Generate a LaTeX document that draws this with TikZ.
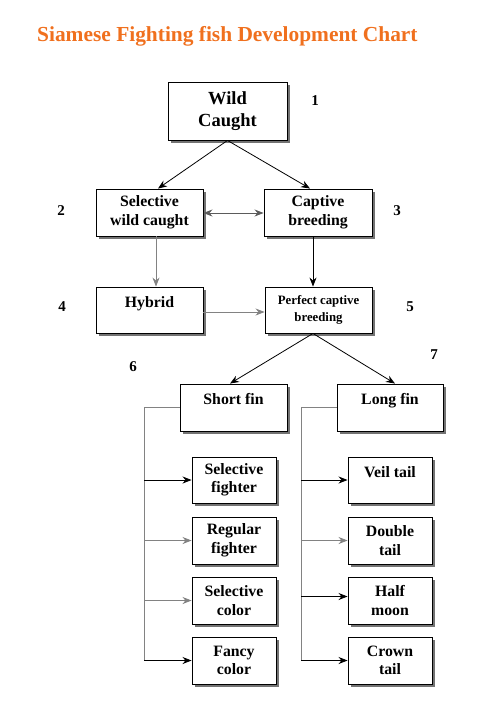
\documentclass[tikz,border=0pt]{standalone}
\usepackage{fontspec}
\setmainfont{Liberation Serif}
\usetikzlibrary{arrows.meta,shadows,calc}
\definecolor{titleorange}{RGB}{240,112,30}
\definecolor{linegray}{RGB}{130,130,130}
\tikzset{
  box/.style={draw=black, fill=white, line width=0.9pt, align=center, inner sep=0pt,
    font=\fontsize{15.8}{18.5}\selectfont\bfseries,
    drop shadow={shadow xshift=3pt, shadow yshift=-3pt, fill=black!55, opacity=1}},
  num/.style={font=\fontsize{15}{18}\selectfont\bfseries, inner sep=0pt},
  arr/.style={-{Stealth[length=9pt,width=7pt]}, line width=0.8pt},
  darr/.style={{Stealth[length=9pt,width=7pt]}-{Stealth[length=9pt,width=7pt]}, line width=0.8pt},
  ln/.style={line width=0.8pt}
}
\begin{document}
\begin{tikzpicture}[x=1pt,y=-1pt]
\useasboundingbox (0,0) rectangle (480,721);
\node[anchor=base west, inner sep=0pt, text=titleorange, font=\fontsize{21.4}{24}\selectfont\bfseries] (title) at (37,41) {Siamese Fighting fish Development Chart};

\node[box, minimum width=119pt, minimum height=58pt, font=\fontsize{18.5}{22}\selectfont\bfseries] (wild) at (227.5,111) {Wild\\Caught};
\node[box, minimum width=107pt, minimum height=47pt] (selwild) at (149.5,212.5) {Selective\\wild caught};
\node[box, minimum width=108pt, minimum height=47pt] (captive) at (318,212.5) {Captive\\breeding};
\node[box, minimum width=107pt, minimum height=46pt] (hybrid) at (149.5,310) {Hybrid\\[-9pt]\strut};
\node[box, minimum width=107pt, minimum height=46pt, font=\fontsize{12.8}{17}\selectfont\bfseries] (perfect) at (318.5,310) {Perfect captive\\breeding};
\node[box, minimum width=107pt, minimum height=47pt] (short) at (233.5,407.5) {Short fin\\[-6pt]\strut};
\node[box, minimum width=106pt, minimum height=47pt] (long) at (390,407.5) {Long fin\\[-6pt]\strut};

\node[box, minimum width=84pt, minimum height=46pt] (selfight) at (234,480) {Selective\\fighter};
\node[box, minimum width=84pt, minimum height=47pt] (regular) at (234,540.5) {Regular\\fighter};
\node[box, minimum width=84pt, minimum height=47pt] (selcolor) at (234,600.5) {Selective\\color};
\node[box, minimum width=84pt, minimum height=47pt] (fancy) at (234,660.5) {Fancy\\color};

\node[box, minimum width=84pt, minimum height=46pt] (veil) at (390,480) {Veil tail\\[-8pt]\strut};
\node[box, minimum width=84pt, minimum height=47pt] (double) at (390,540.5) {Double\\tail};
\node[box, minimum width=84pt, minimum height=47pt] (half) at (390,600.5) {Half\\moon};
\node[box, minimum width=84pt, minimum height=47pt] (crown) at (390,660.5) {Crown\\tail};

\node[num] (n1) at (315,101) {1};
\node[num] (n2) at (61,211) {2};
\node[num] (n3) at (397,211) {3};
\node[num] (n4) at (62,307) {4};
\node[num] (n5) at (410,307) {5};
\node[num] (n6) at (133,367) {6};
\node[num] (n7) at (434,355) {7};

\draw[arr] (wild.south) -- ([xshift=8.5pt]selwild.north);
\draw[arr] (wild.south) -- ([xshift=-8pt]captive.north);
\draw[darr, draw=linegray!70!black] ([yshift=-0.5pt]selwild.east) -- ([yshift=-0.5pt]captive.west);
\draw[arr, draw=linegray] ([xshift=6.5pt]selwild.south) -- ([xshift=6.5pt]hybrid.north);
\draw[arr] ([xshift=-5pt]captive.south) -- ([xshift=-5.5pt]perfect.north);
\draw[arr, draw=linegray] ([yshift=-2pt]hybrid.east) -- ([yshift=-2pt]perfect.west);
\draw[arr] ([xshift=-5.5pt]perfect.south) -- ([xshift=-3.5pt]short.north);
\draw[arr] ([xshift=-5.5pt]perfect.south) -- ([xshift=5pt]long.north);

\coordinate (sl) at (144,0);
\coordinate (ll) at (301,0);
\draw[ln, draw=linegray] (short.west) -| (sl |- fancy.west);
\draw[arr] (sl |- selfight.west) -- (selfight.west);
\draw[arr, draw=linegray] (sl |- regular.west) -- (regular.west);
\draw[arr, draw=linegray] (sl |- selcolor.west) -- (selcolor.west);
\draw[arr] (sl |- fancy.west) -- (fancy.west);

\draw[ln, draw=linegray] (long.west) -| (ll |- crown.west);
\draw[arr] (ll |- veil.west) -- (veil.west);
\draw[arr, draw=linegray] (ll |- double.west) -- (double.west);
\draw[arr] ([yshift=4pt]ll |- half.west) -- ([yshift=4pt]half.west);
\draw[arr] (ll |- crown.west) -- (crown.west);
\end{tikzpicture}
\end{document}
